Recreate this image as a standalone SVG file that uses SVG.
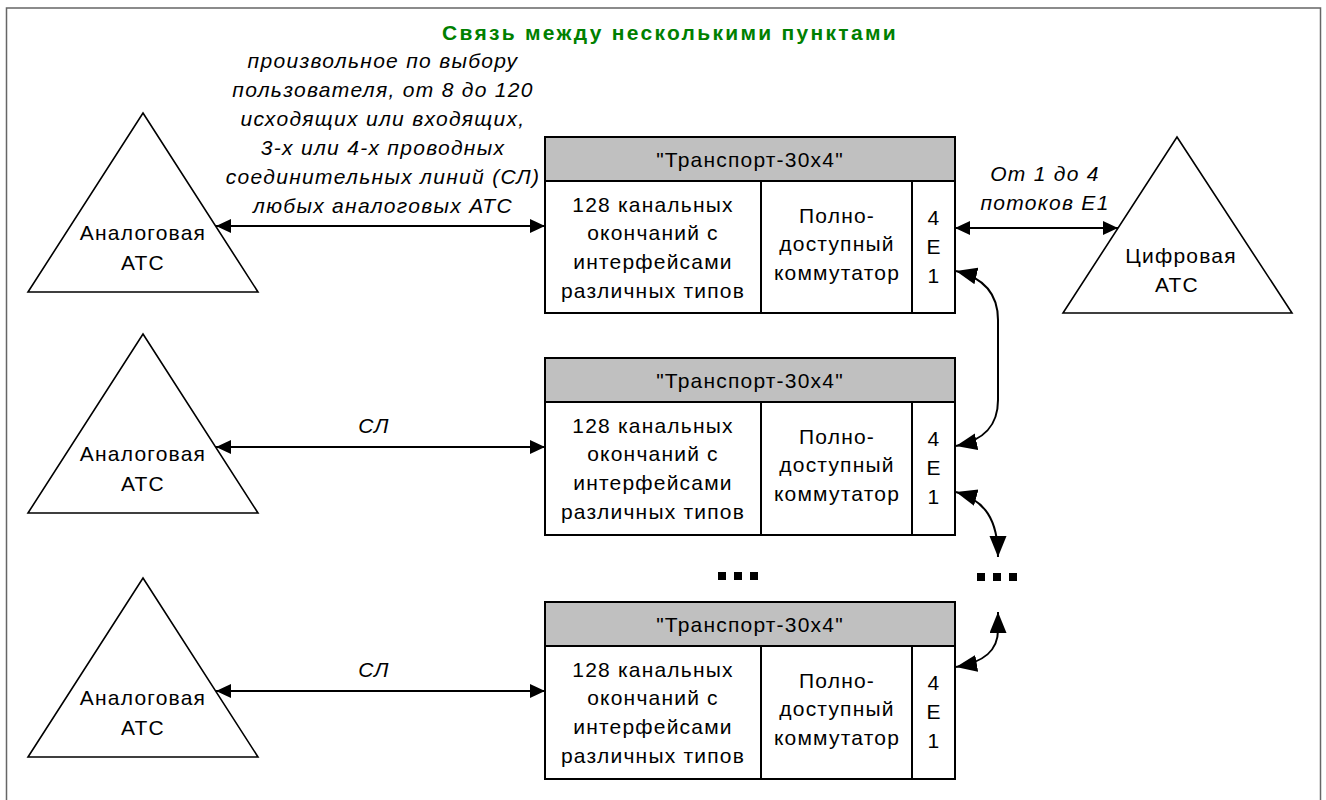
<svg xmlns="http://www.w3.org/2000/svg" width="1326" height="800" viewBox="0 0 1326 800">
<style>
.t{font-family:"Liberation Sans",Arial,sans-serif;font-size:21px;fill:#000;text-anchor:middle;letter-spacing:1.2px}
.i{font-family:"Liberation Sans",Arial,sans-serif;font-size:21px;font-style:italic;fill:#000;text-anchor:middle;letter-spacing:1.3px}
.title{font-family:"Liberation Sans",Arial,sans-serif;font-size:21px;font-weight:bold;fill:#008000;text-anchor:middle;letter-spacing:2.3px}
.tri{fill:#fff;stroke:#000;stroke-width:1.6}
.box{fill:#fff;stroke:#000;stroke-width:2}
.hdr{fill:#c0c0c0;stroke:#000;stroke-width:2}
.ln{fill:none;stroke:#000;stroke-width:2}
.dot{fill:#000}
</style>
<defs>
<marker id="a" markerUnits="userSpaceOnUse" markerWidth="16" markerHeight="16" refX="15" refY="7" orient="auto-start-reverse"><path d="M0,0 L15,7 L0,14 z" fill="#000"/></marker>
<marker id="b" markerUnits="userSpaceOnUse" markerWidth="22" markerHeight="18" refX="21" refY="8.5" orient="auto-start-reverse"><path d="M0,0 L21,8.5 L0,17 z" fill="#000"/></marker>
</defs>
<rect x="6.5" y="8" width="1314" height="810" fill="#fff" stroke="#666" stroke-width="1.5"/>
<text class="title" x="670" y="40">Связь между несколькими пунктами</text>

<g id="analog1">
<polygon class="tri" points="143,113 258,292 28,292"/>
<text class="t" x="143" y="240">Аналоговая</text>
<text class="t" x="143" y="270">АТС</text>
</g>
<g id="analog2">
<polygon class="tri" points="143,334 258,513 28,513"/>
<text class="t" x="143" y="461">Аналоговая</text>
<text class="t" x="143" y="491">АТС</text>
</g>
<g id="analog3">
<polygon class="tri" points="143,578 258,757 28,757"/>
<text class="t" x="143" y="705">Аналоговая</text>
<text class="t" x="143" y="735">АТС</text>
</g>
<g id="digital">
<polygon class="tri" points="1177,137 1292,313 1063,313"/>
<text class="t" x="1181" y="263">Цифровая</text>
<text class="t" x="1177" y="292">АТС</text>
</g>

<g id="box1">
<rect class="hdr" x="545" y="137" width="410" height="44"/>
<rect class="box" x="545" y="181" width="410" height="132"/>
<line class="ln" x1="761" y1="181" x2="761" y2="313"/>
<line class="ln" x1="912" y1="181" x2="912" y2="313"/>
<text class="t" x="750" y="167">"Транспорт-30x4"</text>
<text class="t" x="653" y="212">128 канальных</text>
<text class="t" x="653" y="240">окончаний с</text>
<text class="t" x="653" y="269">интерфейсами</text>
<text class="t" x="653" y="298">различных типов</text>
<text class="t" x="837" y="223">Полно-</text>
<text class="t" x="837" y="251">доступный</text>
<text class="t" x="837" y="280">коммутатор</text>
<text class="t" x="934" y="225">4</text>
<text class="t" x="934" y="254">Е</text>
<text class="t" x="934" y="283">1</text>
</g>
<g id="box2">
<rect class="hdr" x="545" y="358" width="410" height="44"/>
<rect class="box" x="545" y="402" width="410" height="133"/>
<line class="ln" x1="761" y1="402" x2="761" y2="535"/>
<line class="ln" x1="912" y1="402" x2="912" y2="535"/>
<text class="t" x="750" y="388">"Транспорт-30x4"</text>
<text class="t" x="653" y="433">128 канальных</text>
<text class="t" x="653" y="461">окончаний с</text>
<text class="t" x="653" y="490">интерфейсами</text>
<text class="t" x="653" y="519">различных типов</text>
<text class="t" x="837" y="444">Полно-</text>
<text class="t" x="837" y="472">доступный</text>
<text class="t" x="837" y="501">коммутатор</text>
<text class="t" x="934" y="446">4</text>
<text class="t" x="934" y="475">Е</text>
<text class="t" x="934" y="504">1</text>
</g>
<g id="box3">
<rect class="hdr" x="545" y="602" width="410" height="44"/>
<rect class="box" x="545" y="646" width="410" height="133"/>
<line class="ln" x1="761" y1="646" x2="761" y2="779"/>
<line class="ln" x1="912" y1="646" x2="912" y2="779"/>
<text class="t" x="750" y="632">"Транспорт-30x4"</text>
<text class="t" x="653" y="677">128 канальных</text>
<text class="t" x="653" y="705">окончаний с</text>
<text class="t" x="653" y="734">интерфейсами</text>
<text class="t" x="653" y="763">различных типов</text>
<text class="t" x="837" y="688">Полно-</text>
<text class="t" x="837" y="716">доступный</text>
<text class="t" x="837" y="745">коммутатор</text>
<text class="t" x="934" y="690">4</text>
<text class="t" x="934" y="719">Е</text>
<text class="t" x="934" y="748">1</text>
</g>

<g id="dots">
<rect class="dot" x="718" y="572" width="8" height="8"/>
<rect class="dot" x="734" y="572" width="8" height="8"/>
<rect class="dot" x="750" y="572" width="8" height="8"/>
<rect class="dot" x="977" y="573" width="8" height="8"/>
<rect class="dot" x="993" y="573" width="8" height="8"/>
<rect class="dot" x="1009" y="573" width="8" height="8"/>
</g>

<g id="connectors">
<line class="ln" x1="216" y1="226" x2="545" y2="226" marker-start="url(#a)" marker-end="url(#a)"/>
<line class="ln" x1="216" y1="447" x2="545" y2="447" marker-start="url(#a)" marker-end="url(#a)"/>
<line class="ln" x1="216" y1="691" x2="545" y2="691" marker-start="url(#a)" marker-end="url(#a)"/>
<line class="ln" x1="955" y1="228" x2="1118" y2="228" marker-start="url(#a)" marker-end="url(#a)"/>
<path class="ln" d="M956 271 C985 278 998 295 998 320 L998 400 C998 425 985 440 956 446" marker-start="url(#b)" marker-end="url(#b)"/>
<path class="ln" d="M956 492 C985 500 998 520 998 557" marker-start="url(#b)" marker-end="url(#b)"/>
<path class="ln" d="M998 612 L998 630 C998 650 985 662 956 667" marker-start="url(#b)" marker-end="url(#b)"/>
</g>

<g id="labels">
<text class="i" x="383" y="68">произвольное по выбору</text>
<text class="i" x="383" y="97">пользователя, от 8 до 120</text>
<text class="i" x="383" y="126">исходящих или входящих,</text>
<text class="i" x="383" y="155">3-х или 4-х проводных</text>
<text class="i" x="383" y="184">соединительных линий (СЛ)</text>
<text class="i" x="383" y="213">любых аналоговых АТС</text>
<text class="i" x="374" y="433">СЛ</text>
<text class="i" x="374" y="677">СЛ</text>
<text class="i" x="1045" y="181">От 1 до 4</text>
<text class="i" x="1045" y="210">потоков Е1</text>
</g>
</svg>
